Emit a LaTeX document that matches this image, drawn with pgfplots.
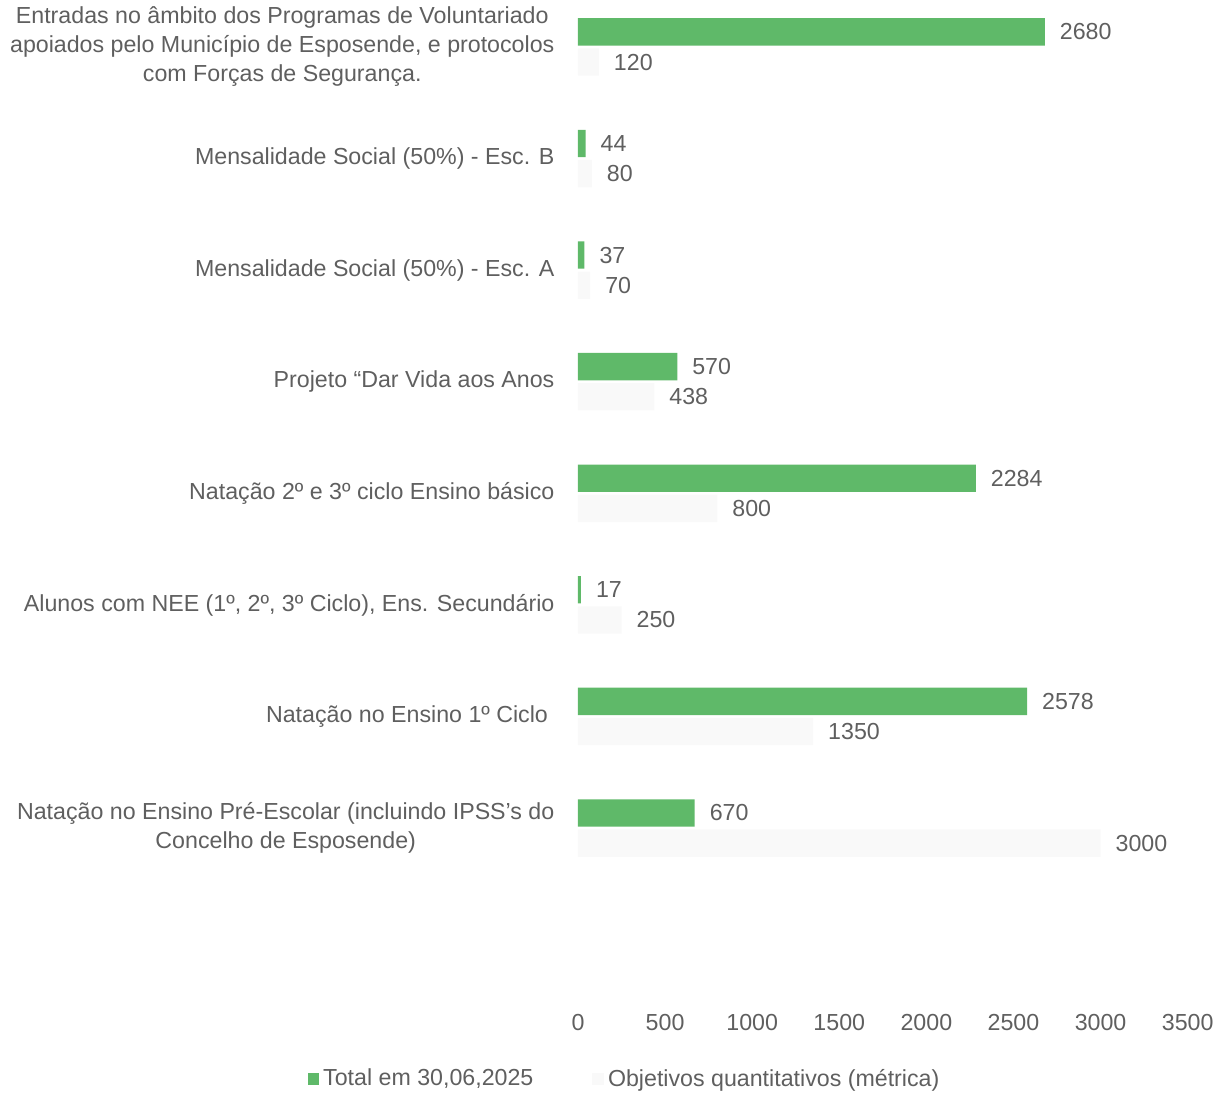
\documentclass[border=0pt]{standalone}
\usepackage{pgfplots}
\pgfplotsset{compat=1.18}
\usepackage{fontspec}
\setmainfont{Liberation Sans}
\definecolor{bargreen}{RGB}{95,185,105}
\definecolor{barwhite}{RGB}{249,249,249}
\definecolor{txtgray}{RGB}{95,95,95}
\begin{document}
\begin{tikzpicture}
\begin{axis}[
  at={(0,0)}, anchor=south west,
  scale only axis,
  width=304.85pt, height=497.7pt,
  xbar, bar width=0.245,
  xmin=0, xmax=3500,
  ymin=-1.5, ymax=7.421,
  xtick={0,500,...,3500},
  ytick={0,...,7},
  yticklabels={
    {Natação no Ensino Pré-Escolar (incluindo IPSS's do\\Concelho de Esposende)},
    {Natação no Ensino 1º Ciclo\ },
    {Alunos com NEE (1º, 2º, 3º Ciclo), Ens. Secundário},
    {Natação 2º e 3º ciclo Ensino básico},
    {Projeto “Dar Vida aos Anos},
    {Mensalidade Social (50\%) - Esc. A},
    {Mensalidade Social (50\%) - Esc. B},
    {Entradas no âmbito dos Programas de Voluntariado\\apoiados pelo Município de Esposende, e protocolos\\com Forças de Segurança.}
  },
  /pgf/number format/assume math mode=true,
  /pgf/number format/1000 sep={},
  axis line style={draw=none},
  tick style={draw=none},
  ticklabel style={font=\fontsize{11.6}{14.5}\selectfont, text=txtgray},
  yticklabel style={align=center, xshift=-4pt},
  xticklabel style={yshift=-6pt},
  clip=false,
  nodes near coords,
  nodes near coords style={font=\fontsize{11.6}{13}\selectfont, text=txtgray, xshift=4pt},
  legend columns=2,
  legend style={draw=none, fill=none, at={(axis description cs:0.072,0)}, anchor=center, yshift=-41.8pt, xshift=1.8pt,
    font=\fontsize{11.6}{13}\selectfont, text=txtgray,
    /tikz/every even column/.append style={column sep=27.5pt}},
  legend image code/.code={\fill[#1] (0pt,-2.9pt) rectangle (5.8pt,2.9pt);},
]
\addplot[fill=bargreen, draw=none, bar shift=0.135] coordinates {
  (670,0) (2578,1) (17,2) (2284,3) (570,4) (37,5) (44,6) (2680,7)
};
\addlegendentry{Total em 30,06,2025}
\addplot[fill=barwhite, draw=none, bar shift=-0.135] coordinates {
  (3000,0) (1350,1) (250,2) (800,3) (438,4) (70,5) (80,6) (120,7)
};
\addlegendentry{Objetivos quantitativos (métrica)}
\end{axis}
\pgfresetboundingbox
\useasboundingbox (-289pt,-49.3pt) rectangle (324.5pt,497.7pt);
\end{tikzpicture}
\end{document}
